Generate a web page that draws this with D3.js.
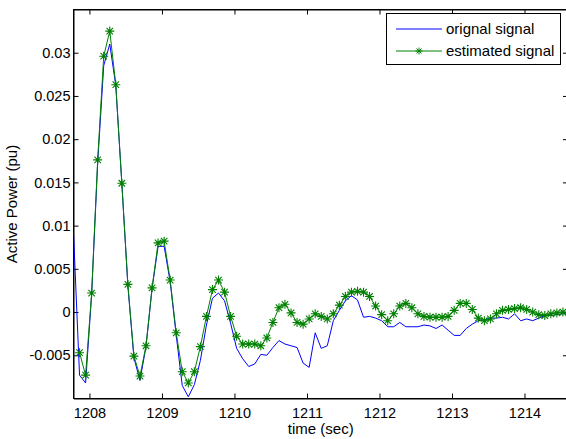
<!DOCTYPE html>
<html>
<head>
<meta charset="utf-8">
<script src="https://cdn.jsdelivr.net/npm/d3@7"></script>
<style>
  body { margin: 0; background: #fff; }
  text { font-family: "Liberation Sans", Arial, Helvetica, sans-serif; }
</style>
</head>
<body>
<svg width="566" height="439"></svg>
<script>
var svg = d3.select("svg"),
    width = +svg.attr("width"),
    height = +svg.attr("height");

// sampling of both signals (12 samples per second)
var startTime = 1207.78;
var sampleStep = 1 / 12;

// orignal signal, one value per sample
var original = [
  0.0092, -0.0073, -0.0082, 0.0020, 0.0172, 0.0285, 0.0310, 0.0262, 0.0149, 0.0030,
  -0.0053, -0.0079, -0.0040, 0.0027, 0.0076, 0.0076, 0.0035, -0.0027, -0.0085, -0.0098,
  -0.0084, -0.0056, -0.0015, 0.0016, 0.0022, 0.0013, -0.0013, -0.0042, -0.0054, -0.0063,
  -0.0060, -0.0049, -0.0050, -0.0041, -0.0033, -0.0037, -0.0039, -0.0041, -0.0059, -0.0064,
  -0.0024, -0.0042, -0.0039, -0.0010, 0.0002, 0.0013, 0.0019, 0.0014, -0.0006, -0.0005,
  -0.0007, -0.0010, -0.0017, -0.0017, -0.0012, -0.0017, -0.0017, -0.0017, -0.0015, -0.0016,
  -0.0019, -0.0015, -0.0021, -0.0027, -0.0027, -0.0019, -0.0014, -0.0010, -0.0009, -0.0007,
  -0.0007, -0.0006, -0.0008, -0.0002, -0.0010, -0.0008, -0.0010, -0.0007, -0.0004, -0.0004,
  -0.0003, -0.0002, -0.0002
];

// estimated signal (starts one sample later)
var estimated = [
  null, -0.0047, -0.0073, 0.0022, 0.0176, 0.0296, 0.0325, 0.0263, 0.0149, 0.0032,
  -0.0051, -0.0074, -0.0039, 0.0028, 0.0080, 0.0082, 0.0037, -0.0024, -0.0069, -0.0082,
  -0.0069, -0.0040, -0.0005, 0.0026, 0.0037, 0.0023, -0.0005, -0.0028, -0.0037, -0.0037,
  -0.0037, -0.0039, -0.0030, -0.0012, 0.0005, 0.0009, -0.0001, -0.0012, -0.0014, -0.0008,
  -0.0002, -0.0005, -0.0008, -0.0002, 0.0008, 0.0018, 0.0023, 0.0024, 0.0023, 0.0018,
  0.0007, -0.0003, -0.0010, -0.0002, 0.0007, 0.0010, 0.0005, -0.0002, -0.0005, -0.0006,
  -0.0006, -0.0006, -0.0005, 0.0002, 0.0010, 0.0010, 0.0003, -0.0007, -0.0010, -0.0008,
  -0.0002, 0.0002, 0.0003, 0.0004, 0.0005, 0.0003, 0.0000, -0.0003, -0.0004, -0.0002,
  -0.0001, 0.0000, -0.0001
];

var xTicks = [1208, 1209, 1210, 1211, 1212, 1213, 1214];
var yTicks = [-0.005, 0, 0.005, 0.01, 0.015, 0.02, 0.025, 0.03];
var seriesNames = ["orignal signal", "estimated signal"];

// plot box (don't call it "top", window.top is taken)
var pLeft = 73.5, pRight = 568, pTop = 9.5, pBottom = 398.5;

var x = d3.scaleLinear().domain([1207.78, 1214.6]).range([pLeft, pRight]);
var y = d3.scaleLinear().domain([-0.01, 0.035]).range([pBottom, pTop]);

function timeOf(i) { return startTime + i * sampleStep; }

svg.append("defs").append("clipPath").attr("id", "plotclip")
  .append("rect")
    .attr("x", pLeft).attr("y", pTop)
    .attr("width", pRight - pLeft).attr("height", pBottom - pTop);

// axes, ticks point inward like matlab
var tickFmt = function(d) { return String(+d.toFixed(4)); };

svg.append("g")
    .attr("transform", "translate(0," + pBottom + ")")
    .call(d3.axisBottom(x).tickValues(xTicks).tickSizeInner(-5).tickSizeOuter(0).tickPadding(9).tickFormat(d3.format("d")));
svg.append("g")
    .attr("transform", "translate(0," + pTop + ")")
    .call(d3.axisTop(x).tickValues(xTicks).tickSizeInner(-5).tickSizeOuter(0).tickFormat(""));
svg.append("g")
    .attr("transform", "translate(" + pLeft + ",0)")
    .call(d3.axisLeft(y).tickValues(yTicks).tickSizeInner(-5).tickSizeOuter(0).tickPadding(3).tickFormat(tickFmt));
svg.append("g")
    .attr("transform", "translate(" + pRight + ",0)")
    .call(d3.axisRight(y).tickValues(yTicks).tickSizeInner(-5).tickSizeOuter(0).tickFormat(""));

svg.selectAll(".tick text").attr("font-size", 14.5).attr("fill", "#000")
    .style("font-family", "'Liberation Sans', Arial, sans-serif");
svg.selectAll(".domain").attr("stroke", "#000");
svg.selectAll(".tick line").attr("stroke", "#000");

// frame
svg.append("rect")
    .attr("x", pLeft).attr("y", pTop)
    .attr("width", pRight - pLeft).attr("height", pBottom - pTop)
    .attr("fill", "none").attr("stroke", "#000").attr("stroke-width", 1);

var plot = svg.append("g").attr("clip-path", "url(#plotclip)");

var line = d3.line()
    .defined(function(d) { return d != null; })
    .x(function(d, i) { return x(timeOf(i)); })
    .y(function(d) { return y(d); });

plot.append("path")
    .datum(original)
    .attr("d", line)
    .attr("fill", "none")
    .attr("stroke", "#0000ff")
    .attr("stroke-width", 1);

plot.append("path")
    .datum(estimated)
    .attr("d", line)
    .attr("fill", "none")
    .attr("stroke", "#008000")
    .attr("stroke-width", 1);

//asterisk marker (plus + cross)
function starPath(cx, cy, r) {
  var d = r * 0.72;
  return "M" + (cx - r) + "," + cy + "H" + (cx + r) +
         "M" + cx + "," + (cy - r) + "V" + (cy + r) +
         "M" + (cx - d) + "," + (cy - d) + "L" + (cx + d) + "," + (cy + d) +
         "M" + (cx - d) + "," + (cy + d) + "L" + (cx + d) + "," + (cy - d);
}

plot.append("g").selectAll("path")
    .data(estimated.map(function(v, i) { return {i: i, v: v}; }).filter(function(d) { return d.v != null; }))
    .enter().append("path")
    .attr("d", function(d) { return starPath(x(timeOf(d.i)), y(d.v), 4.5); })
    .attr("fill", "none")
    .attr("stroke", "#008000")
    .attr("stroke-width", 1.1);

// legend
var legend = svg.append("g");
legend.append("rect")
    .attr("x", 386.5).attr("y", 13.5).attr("width", 174).attr("height", 51)
    .attr("fill", "#fff").attr("stroke", "#000").attr("stroke-width", 1);

legend.append("line")
    .attr("x1", 396).attr("x2", 442).attr("y1", 29).attr("y2", 29)
    .attr("stroke", "#0000ff").attr("stroke-width", 1);
legend.append("line")
    .attr("x1", 396).attr("x2", 442).attr("y1", 51).attr("y2", 51)
    .attr("stroke", "#008000").attr("stroke-width", 1);
legend.append("path")
    .attr("d", starPath(419, 51, 3.5))
    .attr("fill", "none").attr("stroke", "#008000").attr("stroke-width", 1);

legend.selectAll("text")
    .data(seriesNames)
    .enter().append("text")
    .attr("x", 446)
    .attr("y", function(d, i) { return i === 0 ? 34 : 56; })
    .attr("font-size", 15)
    .text(function(d) { return d; });

// axis labels
svg.append("text")
    .attr("x", (pLeft + pRight) / 2).attr("y", 434)
    .attr("text-anchor", "middle").attr("font-size", 15)
    .text("time (sec)");

svg.append("text")
    .attr("transform", "translate(17," + ((pTop + pBottom) / 2) + ") rotate(-90)")
    .attr("text-anchor", "middle").attr("font-size", 15)
    .text("Active Power (pu)");
</script>
</body>
</html>
